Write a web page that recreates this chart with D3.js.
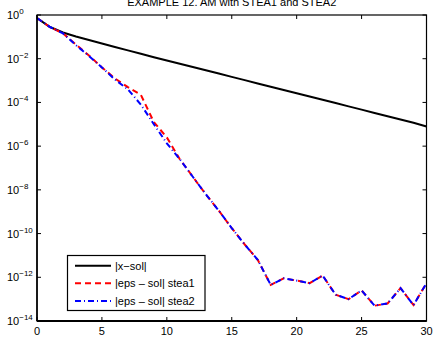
<!DOCTYPE html>
<html><head><meta charset="utf-8">
<script src="https://cdn.jsdelivr.net/npm/d3@7"></script>
<style>body{margin:0;background:#fff}svg{display:block}text{font-family:"Liberation Sans",Arial,sans-serif}</style>
</head><body>
<script>
const iterations = d3.range(0, 31);
// log10 of error values
const xSolLog = [-0.14,-0.55,-0.8,-0.98,-1.14,-1.3,-1.46,-1.62,-1.77,-1.93,-2.08,-2.23,-2.38,-2.53,-2.68,-2.83,-2.98,-3.13,-3.28,-3.43,-3.58,-3.73,-3.88,-4.03,-4.18,-4.33,-4.48,-4.63,-4.78,-4.93,-5.1];
const stea1Log = [-0.14,-0.55,-0.84,-1.35,-1.85,-2.4,-2.9,-3.3,-3.65,-4.9,-5.6,-6.6,-7.4,-8.2,-8.95,-9.75,-10.5,-11.2,-12.35,-12.05,-12.15,-12.27,-11.92,-12.8,-13.0,-12.6,-13.3,-13.2,-12.5,-13.27,-12.27];
const stea2Log = [-0.14,-0.55,-0.84,-1.38,-1.87,-2.4,-2.95,-3.4,-4.1,-5.0,-5.87,-6.6,-7.4,-8.2,-8.95,-9.75,-10.5,-11.2,-12.35,-12.05,-12.15,-12.27,-11.92,-12.8,-13.0,-12.6,-13.3,-13.2,-12.5,-13.27,-12.27];
const yTickExps = [0,-2,-4,-6,-8,-10,-12,-14];
const xTicks = [0,5,10,15,20,25,30];
const title = "EXAMPLE 12. AM with STEA1 and STEA2";
const legendLabels = ["|x\u2212sol|","|eps \u2013 sol| stea1","|eps \u2013 sol| stea2"];

const W=435,H=338, L=37, R=426.5, T=15, B=321;
const svg=d3.select("body").append("svg").attr("width",W).attr("height",H);
const x=d3.scaleLinear().domain([0,30]).range([L,R]);
const y=d3.scaleLog().domain([1e-14,1]).range([B,T]);

// title
svg.append("text").attr("x",(L+R)/2).attr("y",6).attr("text-anchor","middle")
  .attr("font-size",11).text(title);

const line=d3.line().x(d=>x(d[0])).y(d=>y(Math.pow(10,d[1])));
const series=[
 {vals:xSolLog,color:"#000",dash:null},
 {vals:stea1Log,color:"#ff0000",dash:"6,4"},
 {vals:stea2Log,color:"#0000ff",dash:"6,3,1,3"}
];
const clip=svg.append("clipPath").attr("id","c").append("rect").attr("x",L).attr("y",T).attr("width",R-L).attr("height",B-T);
const g=svg.append("g").attr("clip-path","url(#c)");
series.forEach(s=>{
  g.append("path").attr("d",line(iterations.map((it,i)=>[it,s.vals[i]])))
   .attr("fill","none").attr("stroke",s.color).attr("stroke-width",2)
   .attr("stroke-dasharray",s.dash);
});

// axes box
const ax=svg.append("g").attr("stroke","#000").attr("fill","none");
ax.append("rect").attr("x",L).attr("y",T).attr("width",R-L).attr("height",B-T).attr("stroke-width",1.2);
ax.append("line").attr("x1",L).attr("x2",R).attr("y1",B).attr("y2",B).attr("stroke-width",2);
ax.append("line").attr("x1",L).attr("x2",L).attr("y1",T).attr("y2",B).attr("stroke-width",1.5);
xTicks.forEach(t=>{
  ax.append("line").attr("x1",x(t)).attr("x2",x(t)).attr("y1",B).attr("y2",B-4);
  ax.append("line").attr("x1",x(t)).attr("x2",x(t)).attr("y1",T).attr("y2",T+4);
  svg.append("text").attr("x",x(t)).attr("y",335).attr("text-anchor","middle").attr("font-size",11).text(t);
});
yTickExps.forEach(e=>{
  const yy=y(Math.pow(10,e));
  ax.append("line").attr("x1",L).attr("x2",L+4).attr("y1",yy).attr("y2",yy);
  ax.append("line").attr("x1",R).attr("x2",R-4).attr("y1",yy).attr("y2",yy);
  const tx=svg.append("text").attr("x",7).attr("y",yy+4).attr("font-size",11);
  tx.append("tspan").text("10");
  tx.append("tspan").attr("dy",-5).attr("font-size",8).text(e===0?"0":"\u2212"+(-e));
});

// legend
const lg=svg.append("g");
lg.append("rect").attr("x",67.5).attr("y",255.5).attr("width",137.5).attr("height",55).attr("fill","#fff").attr("stroke","#000").attr("stroke-width",1.2);
const rows=[265.7,283.3,301];
series.forEach((s,i)=>{
  lg.append("line").attr("x1",75).attr("x2",111).attr("y1",rows[i]).attr("y2",rows[i])
    .attr("stroke",s.color).attr("stroke-width",2).attr("stroke-dasharray",s.dash);
  lg.append("text").attr("x",115).attr("y",rows[i]+4).attr("font-size",11).text(legendLabels[i]);
});
</script>
</body></html>
